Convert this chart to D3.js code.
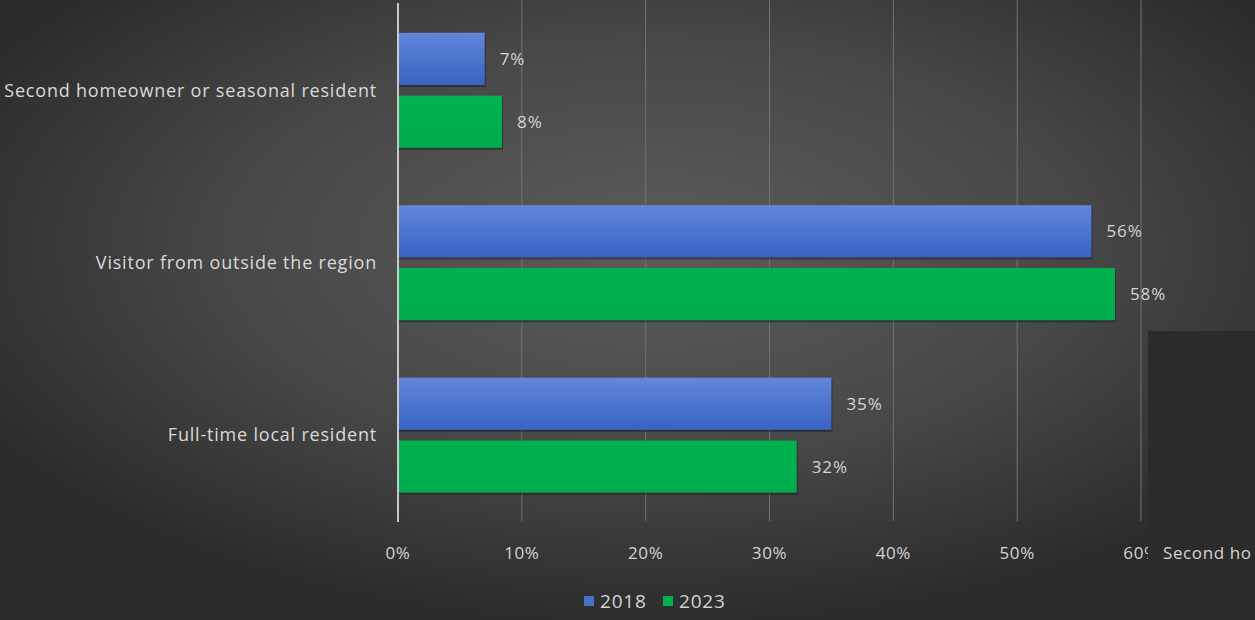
<!DOCTYPE html>
<html><head><meta charset="utf-8">
<script src="https://cdn.jsdelivr.net/npm/d3@7"></script>
<style>html,body{margin:0;padding:0;background:#2b2b2b;overflow:hidden}</style>
</head><body>
<svg id="c" width="1255" height="620"></svg>
<script>
const categories = ["Second homeowner or seasonal resident","Visitor from outside the region","Full-time local resident"];
const seriesNames = ["2018","2023"];
const values2018 = [7.0, 56.0, 35.0];
const values2023 = [8.4, 57.9, 32.2];
const labels2018 = ["7%","56%","35%"];
const labels2023 = ["8%","58%","32%"];
const xTicks = [0,10,20,30,40,50,60];
const xTickLabels = ["0%","10%","20%","30%","40%","50%","60%"];

const svg = d3.select("#c");
const W = 1255, H = 620;
const defs = svg.append("defs");
const rg = defs.append("radialGradient").attr("id","bg").attr("cx","52%").attr("cy","40%").attr("r","62%");
rg.append("stop").attr("offset","0%").attr("stop-color","#5c5c5c");
rg.append("stop").attr("offset","55%").attr("stop-color","#474747");
rg.append("stop").attr("offset","100%").attr("stop-color","#2a2a2a");
const bg = defs.append("linearGradient").attr("id","blue").attr("x1",0).attr("x2",0).attr("y1",0).attr("y2",1);
bg.append("stop").attr("offset","0%").attr("stop-color","#6287da");
bg.append("stop").attr("offset","100%").attr("stop-color","#3763c2");
const gg = defs.append("linearGradient").attr("id","green").attr("x1",0).attr("x2",0).attr("y1",0).attr("y2",1);
gg.append("stop").attr("offset","0%").attr("stop-color","#00b34f");
gg.append("stop").attr("offset","100%").attr("stop-color","#00ac4c");
const clip = defs.append("clipPath").attr("id","rclip");
clip.append("rect").attr("x",1148).attr("y",331).attr("width",107).attr("height",289);

svg.append("rect").attr("width",W).attr("height",H).attr("fill","url(#bg)");

const x = d3.scaleLinear().domain([0,60]).range([398,1141]);
const y0 = d3.scaleBand().domain(categories).range([4,521.5]).paddingInner(0.333).paddingOuter(0.167);
const y1 = d3.scaleBand().domain(seriesNames).range([0,y0.bandwidth()]).paddingInner(0.17);

// gridlines
svg.append("g").selectAll("line").data(xTicks.slice(1)).join("line")
  .attr("x1",d=>x(d)).attr("x2",d=>x(d)).attr("y1",0).attr("y2",521)
  .attr("stroke","#727272").attr("stroke-width",1);

const font = "'Open Sans', sans-serif";
const series = [
  {name:"2018", vals:values2018, labs:labels2018, fill:"url(#blue)"},
  {name:"2023", vals:values2023, labs:labels2023, fill:"url(#green)"}
];
series.forEach(s=>{
  const g = svg.append("g");
  g.selectAll("rect.sh").data(categories).join("rect")
    .attr("x",x(0)+1).attr("y",(d)=>y0(d)+y1(s.name)+2)
    .attr("width",(d,i)=>x(s.vals[i])-x(0)).attr("height",y1.bandwidth())
    .attr("fill","#1a1a1a").attr("opacity",0.5);
  g.selectAll("rect.b").data(categories).join("rect")
    .attr("x",x(0)).attr("y",(d)=>y0(d)+y1(s.name))
    .attr("width",(d,i)=>x(s.vals[i])-x(0)).attr("height",y1.bandwidth())
    .attr("fill",s.fill);
  g.selectAll("text").data(categories).join("text")
    .attr("x",(d,i)=>x(s.vals[i])+15).attr("y",(d)=>y0(d)+y1(s.name)+y1.bandwidth()/2)
    .attr("dy","0.35em").attr("fill","#d4d4d4").attr("font-family",font).attr("font-size",17)
    .attr("letter-spacing",0.9)
    .text((d,i)=>s.labs[i]);
});

// axis line
svg.append("line").attr("x1",x(0)).attr("x2",x(0)).attr("y1",3).attr("y2",522)
  .attr("stroke","#c8c8c8").attr("stroke-width",2);

// category labels
svg.append("g").selectAll("text").data(categories).join("text")
  .attr("x",377).attr("y",d=>y0(d)+y0.bandwidth()/2).attr("dy","0.35em")
  .attr("text-anchor","end").attr("fill","#d9d9d9").attr("font-family",font).attr("font-size",18)
  .attr("letter-spacing",0.8)
  .text(d=>d);

// tick labels
svg.append("g").selectAll("text").data(xTicks).join("text")
  .attr("x",d=>x(d)).attr("y",553).attr("dy","0.35em").attr("text-anchor","middle")
  .attr("fill","#d4d4d4").attr("font-family",font).attr("font-size",17).attr("letter-spacing",0.6)
  .text((d,i)=>xTickLabels[i]);

// overlay panel at right (as in reference)
const ov = svg.append("g");
ov.append("rect").attr("x",1148).attr("y",331).attr("width",107).attr("height",289).attr("fill","#2b2b2b");
ov.append("text").attr("clip-path","url(#rclip)").attr("x",1163).attr("y",553).attr("dy","0.35em")
  .attr("fill","#d4d4d4").attr("font-family",font).attr("font-size",17).attr("letter-spacing",0.6).text("Second ho");

// legend
const leg = svg.append("g");
const legItems = [{n:"2018",c:"#4472c4",x:584},{n:"2023",c:"#00b050",x:663}];
legItems.forEach(l=>{
  leg.append("rect").attr("x",l.x).attr("y",596).attr("width",10).attr("height",10).attr("fill",l.c);
  leg.append("text").attr("x",l.x+16).attr("y",601).attr("dy","0.35em").attr("fill","#d4d4d4")
    .attr("font-family",font).attr("font-size",19).attr("letter-spacing",0.8).text(l.n);
});
</script>
</body></html>
